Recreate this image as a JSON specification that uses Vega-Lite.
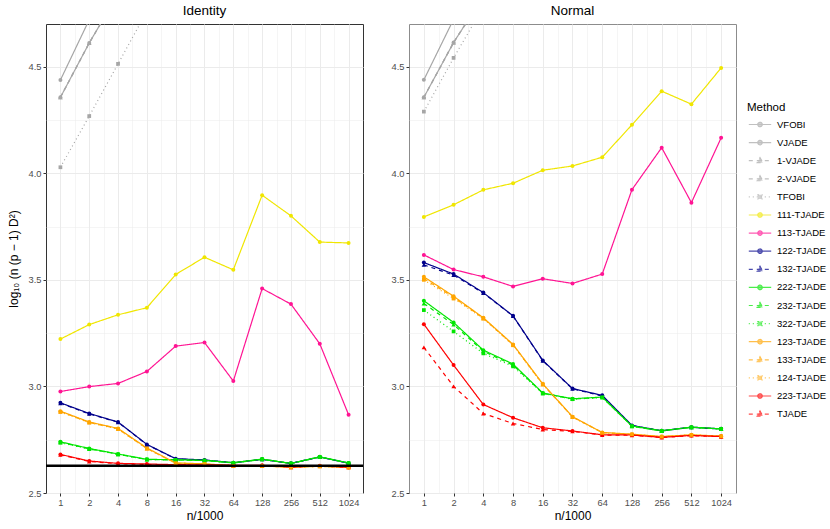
{
  "$schema": "https://vega.github.io/schema/vega-lite/v6.json",
  "padding": {"left": 6, "top": 3, "right": 2, "bottom": 2},
  "background": "white",
  "config": {
    "font": "Liberation Sans",
    "axis": {"domain": false, "tickColor": "#333333", "tickSize": 3, "labelColor": "#4D4D4D", "labelFontSize": 9.3, "labelFont": "Liberation Sans", "titleFont": "Liberation Sans", "titleFontSize": 12, "titleFontWeight": "normal", "titleColor": "#000000", "labelPadding": 2, "gridColor": "#EBEBEB", "labelFlush": false, "labelOverlap": false},
    "legend": {"orient": "none", "legendX": 701, "legendY": 78, "symbolSize": 196, "symbolOffset": 5, "labelOffset": 9, "rowPadding": 5.1, "titlePadding": 3, "symbolStrokeWidth": 1.2, "titleFont": "Liberation Sans", "labelFont": "Liberation Sans", "titleFontSize": 11.5, "titleFontWeight": "normal", "labelFontSize": 9.5, "labelColor": "#000000", "titleColor": "#000000"},
    "title": {"font": "Liberation Sans", "fontSize": 13.5, "fontWeight": "normal", "color": "#000000", "anchor": "middle", "offset": 7}
  },
  "datasets": {
    "d": [
      {"panel":"Identity","method":"VFOBI","n":1,"value":4.437},
      {"panel":"Identity","method":"VFOBI","n":2,"value":4.72},
      {"panel":"Identity","method":"VFOBI","n":4,"value":5.0},
      {"panel":"Identity","method":"VJADE","n":1,"value":4.356},
      {"panel":"Identity","method":"VJADE","n":2,"value":4.611},
      {"panel":"Identity","method":"VJADE","n":4,"value":4.84},
      {"panel":"Identity","method":"1-VJADE","n":1,"value":4.356},
      {"panel":"Identity","method":"1-VJADE","n":2,"value":4.611},
      {"panel":"Identity","method":"1-VJADE","n":4,"value":4.84},
      {"panel":"Identity","method":"2-VJADE","n":1,"value":4.356},
      {"panel":"Identity","method":"2-VJADE","n":2,"value":4.611},
      {"panel":"Identity","method":"2-VJADE","n":4,"value":4.84},
      {"panel":"Identity","method":"TFOBI","n":1,"value":4.028},
      {"panel":"Identity","method":"TFOBI","n":2,"value":4.268},
      {"panel":"Identity","method":"TFOBI","n":4,"value":4.513},
      {"panel":"Identity","method":"TFOBI","n":8,"value":4.76},
      {"panel":"Identity","method":"111-TJADE","n":1,"value":3.222},
      {"panel":"Identity","method":"111-TJADE","n":2,"value":3.290},
      {"panel":"Identity","method":"111-TJADE","n":4,"value":3.336},
      {"panel":"Identity","method":"111-TJADE","n":8,"value":3.369},
      {"panel":"Identity","method":"111-TJADE","n":16,"value":3.525},
      {"panel":"Identity","method":"111-TJADE","n":32,"value":3.606},
      {"panel":"Identity","method":"111-TJADE","n":64,"value":3.547},
      {"panel":"Identity","method":"111-TJADE","n":128,"value":3.897},
      {"panel":"Identity","method":"111-TJADE","n":256,"value":3.800},
      {"panel":"Identity","method":"111-TJADE","n":512,"value":3.677},
      {"panel":"Identity","method":"111-TJADE","n":1024,"value":3.673},
      {"panel":"Identity","method":"113-TJADE","n":1,"value":2.976},
      {"panel":"Identity","method":"113-TJADE","n":2,"value":2.999},
      {"panel":"Identity","method":"113-TJADE","n":4,"value":3.014},
      {"panel":"Identity","method":"113-TJADE","n":8,"value":3.070},
      {"panel":"Identity","method":"113-TJADE","n":16,"value":3.189},
      {"panel":"Identity","method":"113-TJADE","n":32,"value":3.206},
      {"panel":"Identity","method":"113-TJADE","n":64,"value":3.025},
      {"panel":"Identity","method":"113-TJADE","n":128,"value":3.459},
      {"panel":"Identity","method":"113-TJADE","n":256,"value":3.386},
      {"panel":"Identity","method":"113-TJADE","n":512,"value":3.200},
      {"panel":"Identity","method":"113-TJADE","n":1024,"value":2.867},
      {"panel":"Identity","method":"122-TJADE","n":1,"value":2.923},
      {"panel":"Identity","method":"122-TJADE","n":2,"value":2.873},
      {"panel":"Identity","method":"122-TJADE","n":4,"value":2.833},
      {"panel":"Identity","method":"122-TJADE","n":8,"value":2.728},
      {"panel":"Identity","method":"122-TJADE","n":16,"value":2.661},
      {"panel":"Identity","method":"122-TJADE","n":32,"value":2.655},
      {"panel":"Identity","method":"122-TJADE","n":64,"value":2.642},
      {"panel":"Identity","method":"122-TJADE","n":128,"value":2.658},
      {"panel":"Identity","method":"122-TJADE","n":256,"value":2.639},
      {"panel":"Identity","method":"122-TJADE","n":512,"value":2.669},
      {"panel":"Identity","method":"122-TJADE","n":1024,"value":2.640},
      {"panel":"Identity","method":"132-TJADE","n":1,"value":2.921},
      {"panel":"Identity","method":"132-TJADE","n":2,"value":2.871},
      {"panel":"Identity","method":"132-TJADE","n":4,"value":2.832},
      {"panel":"Identity","method":"132-TJADE","n":8,"value":2.727},
      {"panel":"Identity","method":"132-TJADE","n":16,"value":2.660},
      {"panel":"Identity","method":"132-TJADE","n":32,"value":2.654},
      {"panel":"Identity","method":"132-TJADE","n":64,"value":2.642},
      {"panel":"Identity","method":"132-TJADE","n":128,"value":2.658},
      {"panel":"Identity","method":"132-TJADE","n":256,"value":2.639},
      {"panel":"Identity","method":"132-TJADE","n":512,"value":2.669},
      {"panel":"Identity","method":"132-TJADE","n":1024,"value":2.640},
      {"panel":"Identity","method":"222-TJADE","n":1,"value":2.740},
      {"panel":"Identity","method":"222-TJADE","n":2,"value":2.709},
      {"panel":"Identity","method":"222-TJADE","n":4,"value":2.683},
      {"panel":"Identity","method":"222-TJADE","n":8,"value":2.658},
      {"panel":"Identity","method":"222-TJADE","n":16,"value":2.656},
      {"panel":"Identity","method":"222-TJADE","n":32,"value":2.653},
      {"panel":"Identity","method":"222-TJADE","n":64,"value":2.642},
      {"panel":"Identity","method":"222-TJADE","n":128,"value":2.659},
      {"panel":"Identity","method":"222-TJADE","n":256,"value":2.639},
      {"panel":"Identity","method":"222-TJADE","n":512,"value":2.670},
      {"panel":"Identity","method":"222-TJADE","n":1024,"value":2.641},
      {"panel":"Identity","method":"232-TJADE","n":1,"value":2.738},
      {"panel":"Identity","method":"232-TJADE","n":2,"value":2.707},
      {"panel":"Identity","method":"232-TJADE","n":4,"value":2.682},
      {"panel":"Identity","method":"232-TJADE","n":8,"value":2.657},
      {"panel":"Identity","method":"232-TJADE","n":16,"value":2.655},
      {"panel":"Identity","method":"232-TJADE","n":32,"value":2.652},
      {"panel":"Identity","method":"232-TJADE","n":64,"value":2.641},
      {"panel":"Identity","method":"232-TJADE","n":128,"value":2.658},
      {"panel":"Identity","method":"232-TJADE","n":256,"value":2.638},
      {"panel":"Identity","method":"232-TJADE","n":512,"value":2.669},
      {"panel":"Identity","method":"232-TJADE","n":1024,"value":2.640},
      {"panel":"Identity","method":"322-TJADE","n":1,"value":2.736},
      {"panel":"Identity","method":"322-TJADE","n":2,"value":2.706},
      {"panel":"Identity","method":"322-TJADE","n":4,"value":2.681},
      {"panel":"Identity","method":"322-TJADE","n":8,"value":2.657},
      {"panel":"Identity","method":"322-TJADE","n":16,"value":2.655},
      {"panel":"Identity","method":"322-TJADE","n":32,"value":2.652},
      {"panel":"Identity","method":"322-TJADE","n":64,"value":2.641},
      {"panel":"Identity","method":"322-TJADE","n":128,"value":2.658},
      {"panel":"Identity","method":"322-TJADE","n":256,"value":2.638},
      {"panel":"Identity","method":"322-TJADE","n":512,"value":2.669},
      {"panel":"Identity","method":"322-TJADE","n":1024,"value":2.640},
      {"panel":"Identity","method":"123-TJADE","n":1,"value":2.884},
      {"panel":"Identity","method":"123-TJADE","n":2,"value":2.833},
      {"panel":"Identity","method":"123-TJADE","n":4,"value":2.803},
      {"panel":"Identity","method":"123-TJADE","n":8,"value":2.711},
      {"panel":"Identity","method":"123-TJADE","n":16,"value":2.641},
      {"panel":"Identity","method":"123-TJADE","n":32,"value":2.637},
      {"panel":"Identity","method":"123-TJADE","n":64,"value":2.628},
      {"panel":"Identity","method":"123-TJADE","n":128,"value":2.627},
      {"panel":"Identity","method":"123-TJADE","n":256,"value":2.621},
      {"panel":"Identity","method":"123-TJADE","n":512,"value":2.625},
      {"panel":"Identity","method":"123-TJADE","n":1024,"value":2.620},
      {"panel":"Identity","method":"133-TJADE","n":1,"value":2.882},
      {"panel":"Identity","method":"133-TJADE","n":2,"value":2.831},
      {"panel":"Identity","method":"133-TJADE","n":4,"value":2.801},
      {"panel":"Identity","method":"133-TJADE","n":8,"value":2.709},
      {"panel":"Identity","method":"133-TJADE","n":16,"value":2.640},
      {"panel":"Identity","method":"133-TJADE","n":32,"value":2.636},
      {"panel":"Identity","method":"133-TJADE","n":64,"value":2.627},
      {"panel":"Identity","method":"133-TJADE","n":128,"value":2.627},
      {"panel":"Identity","method":"133-TJADE","n":256,"value":2.621},
      {"panel":"Identity","method":"133-TJADE","n":512,"value":2.625},
      {"panel":"Identity","method":"133-TJADE","n":1024,"value":2.620},
      {"panel":"Identity","method":"124-TJADE","n":1,"value":2.880},
      {"panel":"Identity","method":"124-TJADE","n":2,"value":2.830},
      {"panel":"Identity","method":"124-TJADE","n":4,"value":2.800},
      {"panel":"Identity","method":"124-TJADE","n":8,"value":2.708},
      {"panel":"Identity","method":"124-TJADE","n":16,"value":2.640},
      {"panel":"Identity","method":"124-TJADE","n":32,"value":2.636},
      {"panel":"Identity","method":"124-TJADE","n":64,"value":2.627},
      {"panel":"Identity","method":"124-TJADE","n":128,"value":2.627},
      {"panel":"Identity","method":"124-TJADE","n":256,"value":2.621},
      {"panel":"Identity","method":"124-TJADE","n":512,"value":2.625},
      {"panel":"Identity","method":"124-TJADE","n":1024,"value":2.620},
      {"panel":"Identity","method":"223-TJADE","n":1,"value":2.681},
      {"panel":"Identity","method":"223-TJADE","n":2,"value":2.650},
      {"panel":"Identity","method":"223-TJADE","n":4,"value":2.639},
      {"panel":"Identity","method":"223-TJADE","n":8,"value":2.636},
      {"panel":"Identity","method":"223-TJADE","n":16,"value":2.633},
      {"panel":"Identity","method":"223-TJADE","n":32,"value":2.632},
      {"panel":"Identity","method":"223-TJADE","n":64,"value":2.630},
      {"panel":"Identity","method":"223-TJADE","n":128,"value":2.630},
      {"panel":"Identity","method":"223-TJADE","n":256,"value":2.622},
      {"panel":"Identity","method":"223-TJADE","n":512,"value":2.628},
      {"panel":"Identity","method":"223-TJADE","n":1024,"value":2.621},
      {"panel":"Identity","method":"TJADE","n":1,"value":2.679},
      {"panel":"Identity","method":"TJADE","n":2,"value":2.648},
      {"panel":"Identity","method":"TJADE","n":4,"value":2.637},
      {"panel":"Identity","method":"TJADE","n":8,"value":2.634},
      {"panel":"Identity","method":"TJADE","n":16,"value":2.632},
      {"panel":"Identity","method":"TJADE","n":32,"value":2.631},
      {"panel":"Identity","method":"TJADE","n":64,"value":2.629},
      {"panel":"Identity","method":"TJADE","n":128,"value":2.629},
      {"panel":"Identity","method":"TJADE","n":256,"value":2.621},
      {"panel":"Identity","method":"TJADE","n":512,"value":2.627},
      {"panel":"Identity","method":"TJADE","n":1024,"value":2.620},
      {"panel":"Normal","method":"VFOBI","n":1,"value":4.438},
      {"panel":"Normal","method":"VFOBI","n":2,"value":4.722},
      {"panel":"Normal","method":"VFOBI","n":4,"value":5.0},
      {"panel":"Normal","method":"VJADE","n":1,"value":4.356},
      {"panel":"Normal","method":"VJADE","n":2,"value":4.613},
      {"panel":"Normal","method":"VJADE","n":4,"value":4.83},
      {"panel":"Normal","method":"1-VJADE","n":1,"value":4.356},
      {"panel":"Normal","method":"1-VJADE","n":2,"value":4.613},
      {"panel":"Normal","method":"1-VJADE","n":4,"value":4.83},
      {"panel":"Normal","method":"2-VJADE","n":1,"value":4.356},
      {"panel":"Normal","method":"2-VJADE","n":2,"value":4.613},
      {"panel":"Normal","method":"2-VJADE","n":4,"value":4.83},
      {"panel":"Normal","method":"TFOBI","n":1,"value":4.289},
      {"panel":"Normal","method":"TFOBI","n":2,"value":4.541},
      {"panel":"Normal","method":"TFOBI","n":4,"value":4.78},
      {"panel":"Normal","method":"111-TJADE","n":1,"value":3.795},
      {"panel":"Normal","method":"111-TJADE","n":2,"value":3.852},
      {"panel":"Normal","method":"111-TJADE","n":4,"value":3.922},
      {"panel":"Normal","method":"111-TJADE","n":8,"value":3.953},
      {"panel":"Normal","method":"111-TJADE","n":16,"value":4.014},
      {"panel":"Normal","method":"111-TJADE","n":32,"value":4.034},
      {"panel":"Normal","method":"111-TJADE","n":64,"value":4.075},
      {"panel":"Normal","method":"111-TJADE","n":128,"value":4.227},
      {"panel":"Normal","method":"111-TJADE","n":256,"value":4.385},
      {"panel":"Normal","method":"111-TJADE","n":512,"value":4.324},
      {"panel":"Normal","method":"111-TJADE","n":1024,"value":4.494},
      {"panel":"Normal","method":"113-TJADE","n":1,"value":3.617},
      {"panel":"Normal","method":"113-TJADE","n":2,"value":3.548},
      {"panel":"Normal","method":"113-TJADE","n":4,"value":3.514},
      {"panel":"Normal","method":"113-TJADE","n":8,"value":3.469},
      {"panel":"Normal","method":"113-TJADE","n":16,"value":3.505},
      {"panel":"Normal","method":"113-TJADE","n":32,"value":3.483},
      {"panel":"Normal","method":"113-TJADE","n":64,"value":3.527},
      {"panel":"Normal","method":"113-TJADE","n":128,"value":3.923},
      {"panel":"Normal","method":"113-TJADE","n":256,"value":4.120},
      {"panel":"Normal","method":"113-TJADE","n":512,"value":3.862},
      {"panel":"Normal","method":"113-TJADE","n":1024,"value":4.166},
      {"panel":"Normal","method":"122-TJADE","n":1,"value":3.581},
      {"panel":"Normal","method":"122-TJADE","n":2,"value":3.527},
      {"panel":"Normal","method":"122-TJADE","n":4,"value":3.440},
      {"panel":"Normal","method":"122-TJADE","n":8,"value":3.331},
      {"panel":"Normal","method":"122-TJADE","n":16,"value":3.122},
      {"panel":"Normal","method":"122-TJADE","n":32,"value":2.990},
      {"panel":"Normal","method":"122-TJADE","n":64,"value":2.958},
      {"panel":"Normal","method":"122-TJADE","n":128,"value":2.817},
      {"panel":"Normal","method":"122-TJADE","n":256,"value":2.792},
      {"panel":"Normal","method":"122-TJADE","n":512,"value":2.809},
      {"panel":"Normal","method":"122-TJADE","n":1024,"value":2.801},
      {"panel":"Normal","method":"132-TJADE","n":1,"value":3.570},
      {"panel":"Normal","method":"132-TJADE","n":2,"value":3.522},
      {"panel":"Normal","method":"132-TJADE","n":4,"value":3.438},
      {"panel":"Normal","method":"132-TJADE","n":8,"value":3.330},
      {"panel":"Normal","method":"132-TJADE","n":16,"value":3.120},
      {"panel":"Normal","method":"132-TJADE","n":32,"value":2.989},
      {"panel":"Normal","method":"132-TJADE","n":64,"value":2.955},
      {"panel":"Normal","method":"132-TJADE","n":128,"value":2.816},
      {"panel":"Normal","method":"132-TJADE","n":256,"value":2.791},
      {"panel":"Normal","method":"132-TJADE","n":512,"value":2.808},
      {"panel":"Normal","method":"132-TJADE","n":1024,"value":2.800},
      {"panel":"Normal","method":"222-TJADE","n":1,"value":3.402},
      {"panel":"Normal","method":"222-TJADE","n":2,"value":3.300},
      {"panel":"Normal","method":"222-TJADE","n":4,"value":3.170},
      {"panel":"Normal","method":"222-TJADE","n":8,"value":3.105},
      {"panel":"Normal","method":"222-TJADE","n":16,"value":2.969},
      {"panel":"Normal","method":"222-TJADE","n":32,"value":2.942},
      {"panel":"Normal","method":"222-TJADE","n":64,"value":2.950},
      {"panel":"Normal","method":"222-TJADE","n":128,"value":2.814},
      {"panel":"Normal","method":"222-TJADE","n":256,"value":2.792},
      {"panel":"Normal","method":"222-TJADE","n":512,"value":2.809},
      {"panel":"Normal","method":"222-TJADE","n":1024,"value":2.801},
      {"panel":"Normal","method":"232-TJADE","n":1,"value":3.389},
      {"panel":"Normal","method":"232-TJADE","n":2,"value":3.290},
      {"panel":"Normal","method":"232-TJADE","n":4,"value":3.165},
      {"panel":"Normal","method":"232-TJADE","n":8,"value":3.100},
      {"panel":"Normal","method":"232-TJADE","n":16,"value":2.968},
      {"panel":"Normal","method":"232-TJADE","n":32,"value":2.941},
      {"panel":"Normal","method":"232-TJADE","n":64,"value":2.949},
      {"panel":"Normal","method":"232-TJADE","n":128,"value":2.813},
      {"panel":"Normal","method":"232-TJADE","n":256,"value":2.791},
      {"panel":"Normal","method":"232-TJADE","n":512,"value":2.808},
      {"panel":"Normal","method":"232-TJADE","n":1024,"value":2.800},
      {"panel":"Normal","method":"322-TJADE","n":1,"value":3.358},
      {"panel":"Normal","method":"322-TJADE","n":2,"value":3.258},
      {"panel":"Normal","method":"322-TJADE","n":4,"value":3.155},
      {"panel":"Normal","method":"322-TJADE","n":8,"value":3.094},
      {"panel":"Normal","method":"322-TJADE","n":16,"value":2.967},
      {"panel":"Normal","method":"322-TJADE","n":32,"value":2.940},
      {"panel":"Normal","method":"322-TJADE","n":64,"value":2.948},
      {"panel":"Normal","method":"322-TJADE","n":128,"value":2.813},
      {"panel":"Normal","method":"322-TJADE","n":256,"value":2.791},
      {"panel":"Normal","method":"322-TJADE","n":512,"value":2.808},
      {"panel":"Normal","method":"322-TJADE","n":1024,"value":2.800},
      {"panel":"Normal","method":"123-TJADE","n":1,"value":3.514},
      {"panel":"Normal","method":"123-TJADE","n":2,"value":3.423},
      {"panel":"Normal","method":"123-TJADE","n":4,"value":3.322},
      {"panel":"Normal","method":"123-TJADE","n":8,"value":3.197},
      {"panel":"Normal","method":"123-TJADE","n":16,"value":3.012},
      {"panel":"Normal","method":"123-TJADE","n":32,"value":2.858},
      {"panel":"Normal","method":"123-TJADE","n":64,"value":2.784},
      {"panel":"Normal","method":"123-TJADE","n":128,"value":2.776},
      {"panel":"Normal","method":"123-TJADE","n":256,"value":2.765},
      {"panel":"Normal","method":"123-TJADE","n":512,"value":2.773},
      {"panel":"Normal","method":"123-TJADE","n":1024,"value":2.767},
      {"panel":"Normal","method":"133-TJADE","n":1,"value":3.506},
      {"panel":"Normal","method":"133-TJADE","n":2,"value":3.418},
      {"panel":"Normal","method":"133-TJADE","n":4,"value":3.320},
      {"panel":"Normal","method":"133-TJADE","n":8,"value":3.195},
      {"panel":"Normal","method":"133-TJADE","n":16,"value":3.010},
      {"panel":"Normal","method":"133-TJADE","n":32,"value":2.857},
      {"panel":"Normal","method":"133-TJADE","n":64,"value":2.783},
      {"panel":"Normal","method":"133-TJADE","n":128,"value":2.775},
      {"panel":"Normal","method":"133-TJADE","n":256,"value":2.764},
      {"panel":"Normal","method":"133-TJADE","n":512,"value":2.772},
      {"panel":"Normal","method":"133-TJADE","n":1024,"value":2.766},
      {"panel":"Normal","method":"124-TJADE","n":1,"value":3.500},
      {"panel":"Normal","method":"124-TJADE","n":2,"value":3.412},
      {"panel":"Normal","method":"124-TJADE","n":4,"value":3.318},
      {"panel":"Normal","method":"124-TJADE","n":8,"value":3.193},
      {"panel":"Normal","method":"124-TJADE","n":16,"value":3.009},
      {"panel":"Normal","method":"124-TJADE","n":32,"value":2.856},
      {"panel":"Normal","method":"124-TJADE","n":64,"value":2.782},
      {"panel":"Normal","method":"124-TJADE","n":128,"value":2.775},
      {"panel":"Normal","method":"124-TJADE","n":256,"value":2.764},
      {"panel":"Normal","method":"124-TJADE","n":512,"value":2.772},
      {"panel":"Normal","method":"124-TJADE","n":1024,"value":2.766},
      {"panel":"Normal","method":"223-TJADE","n":1,"value":3.292},
      {"panel":"Normal","method":"223-TJADE","n":2,"value":3.100},
      {"panel":"Normal","method":"223-TJADE","n":4,"value":2.915},
      {"panel":"Normal","method":"223-TJADE","n":8,"value":2.853},
      {"panel":"Normal","method":"223-TJADE","n":16,"value":2.806},
      {"panel":"Normal","method":"223-TJADE","n":32,"value":2.791},
      {"panel":"Normal","method":"223-TJADE","n":64,"value":2.773},
      {"panel":"Normal","method":"223-TJADE","n":128,"value":2.772},
      {"panel":"Normal","method":"223-TJADE","n":256,"value":2.761},
      {"panel":"Normal","method":"223-TJADE","n":512,"value":2.770},
      {"panel":"Normal","method":"223-TJADE","n":1024,"value":2.765},
      {"panel":"Normal","method":"TJADE","n":1,"value":3.183},
      {"panel":"Normal","method":"TJADE","n":2,"value":3.000},
      {"panel":"Normal","method":"TJADE","n":4,"value":2.873},
      {"panel":"Normal","method":"TJADE","n":8,"value":2.826},
      {"panel":"Normal","method":"TJADE","n":16,"value":2.798},
      {"panel":"Normal","method":"TJADE","n":32,"value":2.789},
      {"panel":"Normal","method":"TJADE","n":64,"value":2.772},
      {"panel":"Normal","method":"TJADE","n":128,"value":2.771},
      {"panel":"Normal","method":"TJADE","n":256,"value":2.760},
      {"panel":"Normal","method":"TJADE","n":512,"value":2.769},
      {"panel":"Normal","method":"TJADE","n":1024,"value":2.764}
    ]
  },
  "resolve": {"scale": {"fill": "shared", "stroke": "shared", "shape": "shared", "strokeDash": "shared"}},
  "spacing": 25,
  "hconcat": [
    {
      "title": "Identity",
      "width": 317,
      "height": 469,
      "view": {"stroke": "#333333", "strokeWidth": 1},
      "data": {"name": "d"},
      "transform": [{"filter": "datum.panel === 'Identity'"}],
      "encoding": {
        "x": {"field": "n", "type": "quantitative", "scale": {"type": "log", "base": 2, "domain": [0.70710678, 1448.1547], "nice": false, "zero": false},
          "axis": {"title": "n/1000", "titlePadding": 3, "values": [1, 1.41421356, 2, 2.82842712, 4, 5.65685425, 8, 11.3137085, 16, 22.627417, 32, 45.254834, 64, 90.509668, 128, 181.019336, 256, 362.038672, 512, 724.077344, 1024],
            "labelExpr": "abs(log(datum.value)/LN2 - round(log(datum.value)/LN2)) > 0.1 ? '' : format(datum.value, 'd')",
            "gridWidth": {"condition": {"test": "abs(log(datum.value)/LN2 - round(log(datum.value)/LN2)) > 0.1", "value": 0.5}, "value": 1},
            "tickOpacity": {"condition": {"test": "abs(log(datum.value)/LN2 - round(log(datum.value)/LN2)) > 0.1", "value": 0}, "value": 1}}},
        "y": {"field": "value", "type": "quantitative", "scale": {"domain": [2.5, 4.7], "nice": false, "zero": false},
          "axis": {"title": "log₁₀ (n (p − 1) D²)", "titlePadding": 8, "values": [2.5, 2.75, 3, 3.25, 3.5, 3.75, 4, 4.25, 4.5],
            "labelExpr": "abs(datum.value*2 - round(datum.value*2)) > 0.1 ? '' : format(datum.value, '.1f')",
            "gridWidth": {"condition": {"test": "abs(datum.value*2 - round(datum.value*2)) > 0.1", "value": 0.5}, "value": 1},
            "tickOpacity": {"condition": {"test": "abs(datum.value*2 - round(datum.value*2)) > 0.1", "value": 0}, "value": 1}}}
      },
      "layer": [
        {
          "transform": [{"filter": "false"}],
          "mark": {"type": "point", "filled": true},
          "encoding": {
            "fill": {"field": "method", "type": "nominal", "title": "Method",
              "scale": {"domain": ["VFOBI","VJADE","1-VJADE","2-VJADE","TFOBI","111-TJADE","113-TJADE","122-TJADE","132-TJADE","222-TJADE","232-TJADE","322-TJADE","123-TJADE","133-TJADE","124-TJADE","223-TJADE","TJADE"],
                "range": ["#A6A6A6","#A6A6A6","#A6A6A6","#A6A6A6","#A6A6A6","#F0E600","#FF1493","#00008B","#00008B","#00E600","#00E600","#00E600","#FFA500","#FFA500","#FFA500","#FF0000","#FF0000"]}},
            "stroke": {"field": "method", "type": "nominal", "title": "Method",
              "scale": {"domain": ["VFOBI","VJADE","1-VJADE","2-VJADE","TFOBI","111-TJADE","113-TJADE","122-TJADE","132-TJADE","222-TJADE","232-TJADE","322-TJADE","123-TJADE","133-TJADE","124-TJADE","223-TJADE","TJADE"],
                "range": ["#A6A6A6","#A6A6A6","#A6A6A6","#A6A6A6","#A6A6A6","#F0E600","#FF1493","#00008B","#00008B","#00E600","#00E600","#00E600","#FFA500","#FFA500","#FFA500","#FF0000","#FF0000"]}},
            "strokeDash": {"field": "method", "type": "nominal", "title": "Method",
              "scale": {"domain": ["VFOBI","VJADE","1-VJADE","2-VJADE","TFOBI","111-TJADE","113-TJADE","122-TJADE","132-TJADE","222-TJADE","232-TJADE","322-TJADE","123-TJADE","133-TJADE","124-TJADE","223-TJADE","TJADE"],
                "range": [[1,0],[1,0],[4,4],[4,4],[1,3],[1,0],[1,0],[1,0],[4,4],[1,0],[4,4],[1,3],[1,0],[4,4],[1,3],[1,0],[4,4]]}},
            "shape": {"field": "method", "type": "nominal", "title": "Method",
              "scale": {"domain": ["VFOBI","VJADE","1-VJADE","2-VJADE","TFOBI","111-TJADE","113-TJADE","122-TJADE","132-TJADE","222-TJADE","232-TJADE","322-TJADE","123-TJADE","133-TJADE","124-TJADE","223-TJADE","TJADE"],
                "range": [
                  "M-1.6,0H1.6M0.32,0A0.32,0.32 0 1,1 -0.32,0A0.32,0.32 0 1,1 0.32,0Z",
                  "M-1.6,0H1.6M0.32,0A0.32,0.32 0 1,1 -0.32,0A0.32,0.32 0 1,1 0.32,0Z",
                  "M-1.6,0H1.6M0,-0.44L0.4,0.28L-0.4,0.28Z",
                  "M-1.6,0H1.6M0,-0.44L0.4,0.28L-0.4,0.28Z",
                  "M-1.6,0H1.6M-0.3,-0.3H0.3V0.3H-0.3Z",
                  "M-1.6,0H1.6M0.32,0A0.32,0.32 0 1,1 -0.32,0A0.32,0.32 0 1,1 0.32,0Z",
                  "M-1.6,0H1.6M0.32,0A0.32,0.32 0 1,1 -0.32,0A0.32,0.32 0 1,1 0.32,0Z",
                  "M-1.6,0H1.6M0.32,0A0.32,0.32 0 1,1 -0.32,0A0.32,0.32 0 1,1 0.32,0Z",
                  "M-1.6,0H1.6M0,-0.44L0.4,0.28L-0.4,0.28Z",
                  "M-1.6,0H1.6M0.32,0A0.32,0.32 0 1,1 -0.32,0A0.32,0.32 0 1,1 0.32,0Z",
                  "M-1.6,0H1.6M0,-0.44L0.4,0.28L-0.4,0.28Z",
                  "M-1.6,0H1.6M-0.3,-0.3H0.3V0.3H-0.3Z",
                  "M-1.6,0H1.6M0.32,0A0.32,0.32 0 1,1 -0.32,0A0.32,0.32 0 1,1 0.32,0Z",
                  "M-1.6,0H1.6M0,-0.44L0.4,0.28L-0.4,0.28Z",
                  "M-1.6,0H1.6M-0.3,-0.3H0.3V0.3H-0.3Z",
                  "M-1.6,0H1.6M0.32,0A0.32,0.32 0 1,1 -0.32,0A0.32,0.32 0 1,1 0.32,0Z",
                  "M-1.6,0H1.6M0,-0.44L0.4,0.28L-0.4,0.28Z"
                ]}}
          }
        },
        {
          "mark": {"type": "line", "strokeWidth": 1.2, "clip": true},
          "encoding": {
            "stroke": {"field": "method", "type": "nominal", "title": "Method"},
            "strokeDash": {"field": "method", "type": "nominal", "title": "Method"}
          }
        },
        {
          "transform": [{"filter": "indexof(['VFOBI','VJADE','111-TJADE','113-TJADE','122-TJADE','222-TJADE','123-TJADE','223-TJADE'], datum.method) >= 0"}],
          "mark": {"type": "point", "shape": "circle", "filled": true, "size": 16, "opacity": 1, "clip": true},
          "encoding": {"fill": {"field": "method", "type": "nominal", "title": "Method"}}
        },
        {
          "transform": [{"filter": "indexof(['1-VJADE','2-VJADE','132-TJADE','232-TJADE','133-TJADE','TJADE'], datum.method) >= 0"}],
          "mark": {"type": "point", "shape": "triangle-up", "filled": true, "size": 20, "opacity": 1, "clip": true},
          "encoding": {"fill": {"field": "method", "type": "nominal", "title": "Method"}}
        },
        {
          "transform": [{"filter": "indexof(['TFOBI','322-TJADE','124-TJADE'], datum.method) >= 0"}],
          "mark": {"type": "point", "shape": "square", "filled": true, "size": 14, "opacity": 1, "clip": true},
          "encoding": {"fill": {"field": "method", "type": "nominal", "title": "Method"}}
        },
        {
          "data": {"values": [{"panel": "Identity", "bound": 2.628}]},
          "mark": {"type": "rule", "color": "#000000", "strokeWidth": 2.5},
          "encoding": {"y": {"field": "bound", "type": "quantitative"}, "x": null}
        }
      ]
    },
    {
      "title": "Normal",
      "width": 327,
      "height": 469,
      "view": {"stroke": "#8C8C8C", "strokeWidth": 1},
      "data": {"name": "d"},
      "transform": [{"filter": "datum.panel === 'Normal'"}],
      "encoding": {
        "x": {"field": "n", "type": "quantitative", "scale": {"type": "log", "base": 2, "domain": [0.70710678, 1448.1547], "nice": false, "zero": false},
          "axis": {"title": "n/1000", "titlePadding": 3, "values": [1, 1.41421356, 2, 2.82842712, 4, 5.65685425, 8, 11.3137085, 16, 22.627417, 32, 45.254834, 64, 90.509668, 128, 181.019336, 256, 362.038672, 512, 724.077344, 1024],
            "labelExpr": "abs(log(datum.value)/LN2 - round(log(datum.value)/LN2)) > 0.1 ? '' : format(datum.value, 'd')",
            "gridWidth": {"condition": {"test": "abs(log(datum.value)/LN2 - round(log(datum.value)/LN2)) > 0.1", "value": 0.5}, "value": 1},
            "tickOpacity": {"condition": {"test": "abs(log(datum.value)/LN2 - round(log(datum.value)/LN2)) > 0.1", "value": 0}, "value": 1}}},
        "y": {"field": "value", "type": "quantitative", "scale": {"domain": [2.5, 4.7], "nice": false, "zero": false},
          "axis": {"title": null, "values": [2.5, 2.75, 3, 3.25, 3.5, 3.75, 4, 4.25, 4.5],
            "labelExpr": "abs(datum.value*2 - round(datum.value*2)) > 0.1 ? '' : format(datum.value, '.1f')",
            "gridWidth": {"condition": {"test": "abs(datum.value*2 - round(datum.value*2)) > 0.1", "value": 0.5}, "value": 1},
            "tickOpacity": {"condition": {"test": "abs(datum.value*2 - round(datum.value*2)) > 0.1", "value": 0}, "value": 1}}}
      },
      "layer": [
        {
          "mark": {"type": "line", "strokeWidth": 1.2, "clip": true},
          "encoding": {
            "stroke": {"field": "method", "type": "nominal", "title": "Method"},
            "strokeDash": {"field": "method", "type": "nominal", "title": "Method"}
          }
        },
        {
          "transform": [{"filter": "indexof(['VFOBI','VJADE','111-TJADE','113-TJADE','122-TJADE','222-TJADE','123-TJADE','223-TJADE'], datum.method) >= 0"}],
          "mark": {"type": "point", "shape": "circle", "filled": true, "size": 16, "opacity": 1, "clip": true},
          "encoding": {"fill": {"field": "method", "type": "nominal", "title": "Method"}}
        },
        {
          "transform": [{"filter": "indexof(['1-VJADE','2-VJADE','132-TJADE','232-TJADE','133-TJADE','TJADE'], datum.method) >= 0"}],
          "mark": {"type": "point", "shape": "triangle-up", "filled": true, "size": 20, "opacity": 1, "clip": true},
          "encoding": {"fill": {"field": "method", "type": "nominal", "title": "Method"}}
        },
        {
          "transform": [{"filter": "indexof(['TFOBI','322-TJADE','124-TJADE'], datum.method) >= 0"}],
          "mark": {"type": "point", "shape": "square", "filled": true, "size": 14, "opacity": 1, "clip": true},
          "encoding": {"fill": {"field": "method", "type": "nominal", "title": "Method"}}
        }
      ]
    }
  ]
}
